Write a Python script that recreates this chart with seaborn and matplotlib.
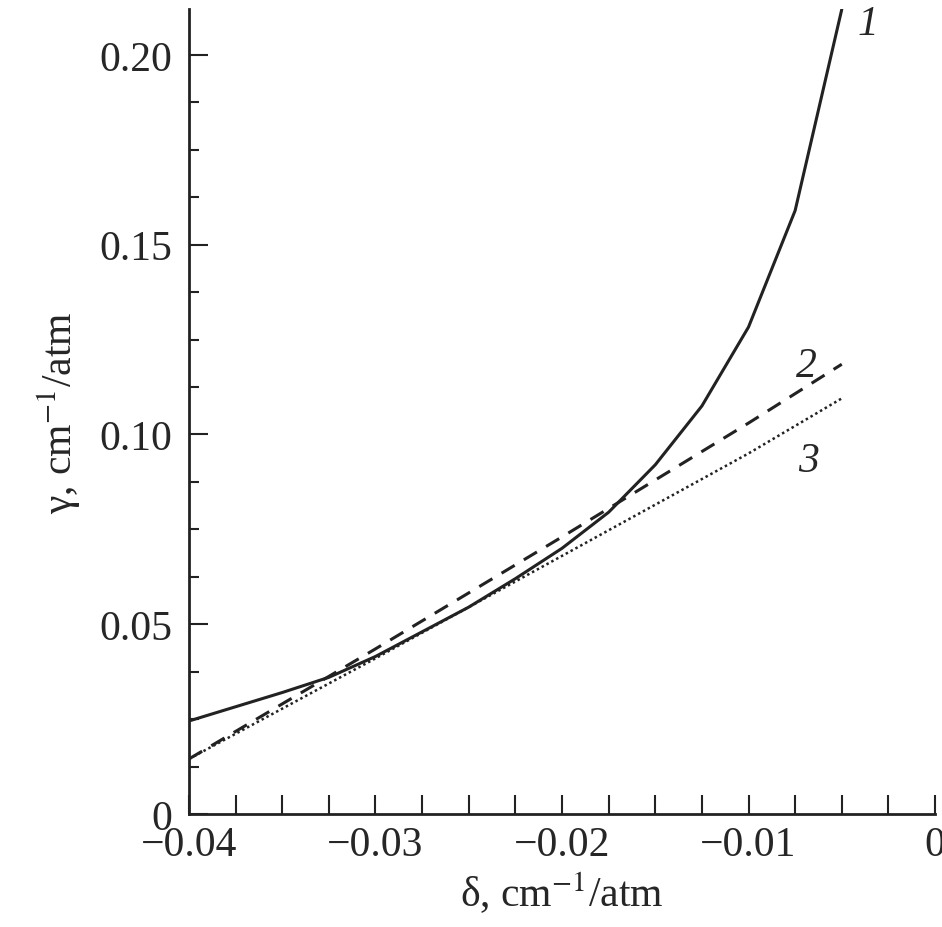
import numpy as np
import pandas as pd
import matplotlib.pyplot as plt
import seaborn as sns
from matplotlib.ticker import MultipleLocator, FuncFormatter

sns.set_style('ticks')
plt.rcParams['font.family'] = 'Liberation Serif'
plt.rcParams['mathtext.fontset'] = 'stix'

# curve 1 (solid)
d1 = [-0.04, -0.035, -0.0325, -0.03, -0.0275, -0.025, -0.0225, -0.02, -0.0175, -0.015, -0.0125, -0.01, -0.0075, -0.005]
g1 = [0.0245, 0.032, 0.036, 0.0415, 0.048, 0.0545, 0.062, 0.070, 0.0795, 0.092, 0.1075, 0.1283, 0.159, 0.212]
# curve 2 (dashed)
d2 = [-0.04, -0.03, -0.02, -0.01, -0.005]
g2 = [0.0145, 0.0435, 0.073, 0.103, 0.1185]
# curve 3 (dotted)
d3 = [-0.04, -0.03, -0.02, -0.01, -0.005]
g3 = [0.0145, 0.041, 0.068, 0.095, 0.1095]

fig = plt.figure(figsize=(9.42, 9.28), dpi=100)
ax = fig.add_axes([0.2006, 0.1218, 0.792, 0.867])

sns.lineplot(x=d1, y=g1, ax=ax, color='#222222', lw=2.2, linestyle='-')
sns.lineplot(x=d2, y=g2, ax=ax, color='#222222', lw=2.2, linestyle=(0, (5, 3.5)))
sns.lineplot(x=d3, y=g3, ax=ax, color='#222222', lw=1.8, linestyle=(0, (1, 1.2)))

ax.text(-0.0036, 0.2055, '1', fontsize=30, style='italic', ha='center')
ax.text(-0.0069, 0.1155, '2', fontsize=30, style='italic', ha='center')
ax.text(-0.0068, 0.0905, '3', fontsize=30, style='italic', ha='center')

ax.set_xlim(-0.04, 0)
ax.set_ylim(0, 0.212)
ax.xaxis.set_major_locator(MultipleLocator(0.01))
ax.xaxis.set_minor_locator(MultipleLocator(0.0025))
ax.yaxis.set_major_locator(MultipleLocator(0.05))
ax.yaxis.set_minor_locator(MultipleLocator(0.0125))

def fmt_x(v, pos):
    if abs(v) < 1e-9:
        return '0'
    return ('%.2f' % v).replace('-', '\u2212')

def fmt_y(v, pos):
    if abs(v) < 1e-9:
        return '0'
    return '%.2f' % v

ax.xaxis.set_major_formatter(FuncFormatter(fmt_x))
ax.yaxis.set_major_formatter(FuncFormatter(fmt_y))
ax.tick_params(which='both', direction='in', width=1.5, labelsize=30, color='#222222')
ax.tick_params(which='major', length=14, pad=8)
ax.tick_params(which='minor', length=14)
ax.tick_params(axis='y', which='minor', length=7)
ax.tick_params(axis='y', which='major', pad=12)

for s in ['top', 'right']:
    ax.spines[s].set_visible(False)
for s in ['left', 'bottom']:
    ax.spines[s].set_linewidth(2)
    ax.spines[s].set_color('#222222')

ax.set_xlabel('\u03b4, cm$^{-1}$/atm', fontsize=30)
ax.set_ylabel('\u03b3, cm$^{-1}$/atm', fontsize=30, labelpad=12)

fig.savefig('out.png', dpi=100)
